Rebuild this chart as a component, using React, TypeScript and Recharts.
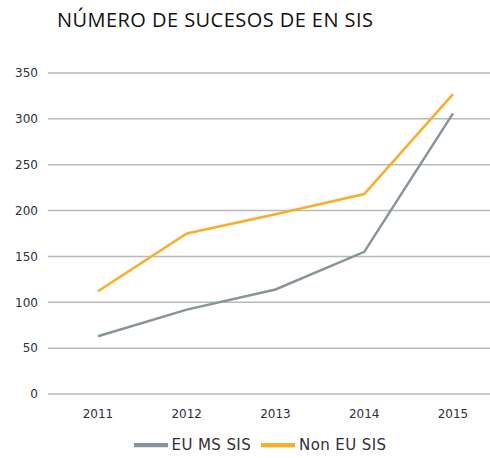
import { LineChart, Line, XAxis, YAxis, CartesianGrid, Legend } from "recharts";

const years = ["2011", "2012", "2013", "2014", "2015"];
const euMsSis = [63, 92, 114, 155, 306];
const nonEuSis = [112, 175, 196, 218, 327];
const yTicks = [0, 50, 100, 150, 200, 250, 300, 350];

const data = years.map((year, i) => ({
  year,
  euMs: euMsSis[i],
  nonEu: nonEuSis[i],
}));

const tickStyle = { fontSize: 12, fill: "#2e2e3c", fontFamily: "DejaVu Sans" };

export default function App() {
  return (
    <div style={{ position: "absolute", left: 0, top: 0, width: 490, height: 458, background: "#fff" }}>
      <div
        style={{
          position: "absolute",
          left: 57,
          top: 6,
          fontFamily: "Open Sans",
          fontSize: 20,
          letterSpacing: 0.45,
          color: "#111",
          whiteSpace: "nowrap",
        }}
      >
        NÚMERO DE SUCESOS DE EN SIS
      </div>
      <LineChart width={490} height={458} data={data} margin={{ top: 73, right: 0, left: 0, bottom: 0 }}>
        <CartesianGrid vertical={false} stroke="#b9b9b9" strokeWidth={1.5} />
        <XAxis
          dataKey="year"
          axisLine={false}
          tickLine={false}
          tick={tickStyle}
          tickMargin={9}
          padding={{ left: 50, right: 37 }}
        />
        <YAxis
          domain={[0, 350]}
          ticks={yTicks}
          width={48}
          axisLine={false}
          tickLine={false}
          tick={tickStyle}
          tickMargin={4}
        />
        <Legend
          iconType="plainline"
          iconSize={34}
          wrapperStyle={{ fontFamily: "DejaVu Sans", fontSize: 15, letterSpacing: 0.4, left: 20, bottom: -4 }}
          formatter={(value) => <span style={{ color: "#2e2e3c" }}>{value}</span>}
        />
        <Line
          dataKey="euMs"
          name="EU MS SIS"
          stroke="#87949a"
          strokeWidth={2.5}
          dot={false}
          isAnimationActive={false}
        />
        <Line
          dataKey="nonEu"
          name="Non EU SIS"
          stroke="#f9ad2a"
          strokeWidth={2.5}
          dot={false}
          isAnimationActive={false}
        />
      </LineChart>
    </div>
  );
}
